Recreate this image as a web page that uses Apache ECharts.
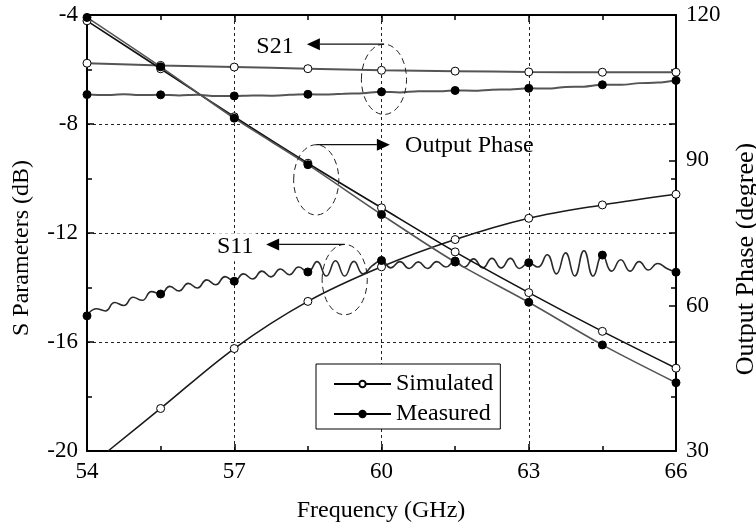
<!DOCTYPE html>
<html>
<head>
<meta charset="utf-8">
<script src="https://cdn.jsdelivr.net/npm/echarts@6/dist/echarts.min.js"></script>
<style>
  html, body { margin: 0; padding: 0; background: #fff; }
  #chart { width: 756px; height: 529px; }
</style>
</head>
<body>
<div id="chart"></div>
<script>
const FONT = "'Liberation Serif', 'Times New Roman', serif";

// Axis ranges
const freqRange = { min: 54, max: 66, step: 3 };
const dbRange = { min: -20, max: -4, step: 4 };
const phaseRange = { min: 30, max: 120, step: 30 };

// Marker frequencies (GHz)
const markFreq = [54, 55.5, 57, 58.5, 60, 61.5, 63, 64.5, 66];

// Marker values
const s21Sim    = [-5.77, -5.85, -5.91, -5.97, -6.03, -6.06, -6.09, -6.10, -6.10];
const s21Meas   = [-6.92, -6.93, -6.97, -6.91, -6.82, -6.77, -6.69, -6.56, -6.40];
const s11Sim    = [null, -18.44, -16.24, -14.51, -13.24, -12.24, -11.46, -10.97, -10.58];
const s11Meas   = [-15.04, -14.24, -13.77, -13.43, -13.01, -13.03, -13.09, -12.81, -13.44];
const phaseSim  = [118.8, 108.9, 99.0, 89.4, 80.2, 71.1, 62.7, 54.7, 47.1];
const phaseMeas = [119.5, 109.3, 98.7, 89.1, 78.8, 69.0, 60.7, 51.9, 44.1];

// Continuous traces
const s11SimTrace = [
  [54.43, -20.0], [55.5, -18.44], [57, -16.24], [58.5, -14.51], [60, -13.24],
  [61.5, -12.24], [63, -11.46], [64.5, -10.97], [66, -10.58]
];

const s21MeasTrace = [
  [54, -6.92], [54.375, -6.94], [54.75, -6.91], [55.125, -6.94], [55.5, -6.93],
  [55.875, -6.95], [56.25, -6.93], [56.625, -6.97], [57, -6.97], [57.375, -6.95],
  [57.75, -6.96], [58.125, -6.93], [58.5, -6.91], [58.875, -6.92], [59.25, -6.89],
  [59.625, -6.87], [60, -6.82], [60.375, -6.84], [60.75, -6.80], [61.125, -6.80],
  [61.5, -6.77], [61.875, -6.78], [62.25, -6.74], [62.625, -6.73], [63, -6.69],
  [63.375, -6.70], [63.75, -6.64], [64.125, -6.63], [64.5, -6.56], [64.875, -6.56],
  [65.25, -6.50], [65.625, -6.48], [66, -6.40]
];

const s11MeasTrace = [
  [54.0000, -15.04], [54.1875, -14.78], [54.3750, -14.86], [54.5625, -14.55],
  [54.7500, -14.66], [54.9375, -14.36], [55.1250, -14.47], [55.3125, -14.15],
  [55.5000, -14.24], [55.6875, -13.96], [55.8750, -14.13], [56.0625, -13.85],
  [56.2500, -14.02], [56.4375, -13.72], [56.6250, -13.90], [56.8125, -13.60],
  [57.0000, -13.77], [57.1875, -13.50], [57.3750, -13.69], [57.5625, -13.40],
  [57.7500, -13.61], [57.9375, -13.32], [58.1250, -13.53], [58.3125, -13.25],
  [58.5000, -13.43], [58.6875, -13.05], [58.8750, -13.58], [59.0625, -13.02],
  [59.2500, -13.58], [59.4375, -13.04], [59.6250, -13.50], [59.8125, -13.20],
  [60.0000, -13.01], [60.1875, -13.28], [60.3750, -13.05], [60.5625, -13.30],
  [60.7500, -13.06], [60.9375, -13.30], [61.1250, -13.05], [61.3125, -13.25],
  [61.5000, -13.03], [61.6875, -13.25], [61.8750, -12.95], [62.0625, -13.28],
  [62.2500, -12.93], [62.4375, -13.28], [62.6250, -12.93], [62.8125, -13.30],
  [63.0000, -13.09], [63.1875, -13.25], [63.3750, -12.80], [63.5625, -13.50],
  [63.7500, -12.73], [63.9375, -13.58], [64.1250, -12.65], [64.3125, -13.58],
  [64.5000, -12.81], [64.6875, -13.40], [64.8750, -12.98], [65.0625, -13.40],
  [65.2500, -13.05], [65.4375, -13.36], [65.6250, -13.12], [65.8125, -13.30],
  [66.0000, -13.44]
];

const pairs = (vals) => markFreq.map((f, i) => [f, vals[i]]).filter(p => p[1] !== null);

const chart = echarts.init(document.getElementById('chart'), null, { renderer: 'canvas' });

const black = '#000';
const tickStyle = { color: black, width: 1.5 };
const gridDash = { color: '#222', width: 1, type: [3, 3] };
const labelStyle = { color: black, fontFamily: FONT, fontSize: 23 };

function xAxisDef(pos, showLabel) {
  return {
    type: 'value', position: pos, min: freqRange.min, max: freqRange.max, interval: freqRange.step,
    axisLine: { show: true, onZero: false, lineStyle: { color: black, width: 2 } },
    axisTick: { show: true, inside: true, length: 7, lineStyle: tickStyle },
    minorTick: { show: true, splitNumber: 2, length: 5, lineStyle: tickStyle },
    axisLabel: Object.assign({ show: showLabel, margin: 9 }, labelStyle),
    splitLine: { show: showLabel, lineStyle: gridDash },
    minorSplitLine: { show: false }
  };
}

function lineSeries(name, data, yIdx, color, width, smooth) {
  return {
    type: 'line', name: name, data: data, xAxisIndex: 0, yAxisIndex: yIdx,
    symbol: 'none', smooth: smooth, lineStyle: { color: color, width: width },
    silent: true, z: 3, animation: false
  };
}

function markSeries(name, data, yIdx, filled) {
  return {
    type: 'scatter', name: name, data: data, xAxisIndex: 0, yAxisIndex: yIdx,
    symbol: 'circle', symbolSize: 8,
    itemStyle: filled ? { color: black, borderColor: black, borderWidth: 1, opacity: 1 }
                      : { color: '#fff', borderColor: black, borderWidth: 1, opacity: 1 },
    silent: true, z: 5, animation: false, clip: false
  };
}

const option = {
  animation: false,
  backgroundColor: '#fff',
  grid: { left: 87, top: 15, width: 589, height: 436, containLabel: false, outerBoundsMode: 'none' },
  xAxis: [xAxisDef('bottom', true), xAxisDef('top', false)],
  yAxis: [
    {
      type: 'value', position: 'left', min: dbRange.min, max: dbRange.max, interval: dbRange.step,
      axisLine: { show: true, onZero: false, lineStyle: { color: black, width: 2 } },
      axisTick: { show: true, inside: true, length: 7, lineStyle: tickStyle },
      minorTick: { show: true, splitNumber: 2, length: 5, lineStyle: tickStyle },
      axisLabel: Object.assign({ margin: 9 }, labelStyle),
      splitLine: { show: true, lineStyle: gridDash }
    },
    {
      type: 'value', position: 'right', min: phaseRange.min, max: phaseRange.max, interval: phaseRange.step,
      axisLine: { show: true, onZero: false, lineStyle: { color: black, width: 2 } },
      axisTick: { show: true, inside: true, length: 7, lineStyle: tickStyle },
      axisLabel: Object.assign({ margin: 10 }, labelStyle),
      splitLine: { show: false }
    },
    {
      type: 'value', position: 'right', min: dbRange.min, max: dbRange.max, interval: dbRange.step,
      axisLine: { show: false },
      axisTick: { show: true, inside: true, length: 7, lineStyle: tickStyle },
      minorTick: { show: true, splitNumber: 2, length: 5, lineStyle: tickStyle },
      axisLabel: { show: false },
      splitLine: { show: false }
    }
  ],
  legend: {
    show: true, orient: 'vertical', left: 316, top: 364,
    padding: [8, 7, 3, 17], itemGap: 6, itemWidth: 57, itemHeight: 8,
    borderColor: black, borderWidth: 1, backgroundColor: '#fff',
    selectedMode: false, data: ['Simulated', 'Measured'],
    textStyle: { fontFamily: FONT, fontSize: 24, color: black, lineHeight: 24 },
    z: 6
  },
  series: [
    lineSeries('S21 simulated', pairs(s21Sim), 0, '#555', 2, 0.3),
    lineSeries('S21 measured', s21MeasTrace, 0, '#555', 2, 0.3),
    lineSeries('S11 simulated', s11SimTrace, 0, '#1a1a1a', 1.6, 0.35),
    lineSeries('S11 measured', s11MeasTrace, 0, '#2a2a2a', 1.6, 0.5),
    lineSeries('Phase simulated', pairs(phaseSim), 1, '#111', 1.6, 0.3),
    lineSeries('Phase measured', pairs(phaseMeas), 1, '#555', 1.6, 0.3),
    markSeries('S21 simulated', pairs(s21Sim), 0, false),
    markSeries('S21 measured', pairs(s21Meas), 0, true),
    markSeries('S11 simulated', pairs(s11Sim), 0, false),
    markSeries('S11 measured', pairs(s11Meas), 0, true),
    markSeries('Phase simulated', pairs(phaseSim), 1, false),
    markSeries('Phase measured', pairs(phaseMeas), 1, true),
    {
      type: 'line', name: 'Simulated', data: [], symbol: 'circle', symbolSize: 8,
      itemStyle: { color: '#fff', borderColor: black, borderWidth: 1 },
      lineStyle: { color: black, width: 2 }
    },
    {
      type: 'line', name: 'Measured', data: [], symbol: 'circle', symbolSize: 8,
      itemStyle: { color: black, borderColor: black, borderWidth: 1 },
      lineStyle: { color: black, width: 2 }
    }
  ]
};

chart.setOption(option);

// Annotations: ellipse groups with arrows pointing to the relevant axis
const notes = [
  { label: 'S21', textAt: [57.83, -5.18], align: 'center', center: [60.05, -6.36], arrowTo: 58.48, bg: false },
  { label: 'Output Phase', textAt: [60.48, -8.78], align: 'left', center: [58.67, -10.05], arrowTo: 60.17, bg: false },
  { label: 'S11', textAt: [57.02, -12.52], align: 'center', center: [59.25, -13.71], arrowTo: 57.65, bg: true }
];
const ellipseHalf = { df: 0.46, ddb: 1.29 };

const toPx = (f, v) => chart.convertToPixel({ xAxisIndex: 0, yAxisIndex: 0 }, [f, v]);
const graphics = [];

notes.forEach(n => {
  const c = toPx(n.center[0], n.center[1]);
  const edge = toPx(n.center[0] + ellipseHalf.df, n.center[1] + ellipseHalf.ddb);
  const rx = Math.abs(edge[0] - c[0]);
  const ry = Math.abs(c[1] - edge[1]);
  graphics.push({
    type: 'ellipse', shape: { cx: c[0], cy: c[1], rx: rx, ry: ry },
    style: { fill: null, stroke: '#222', lineWidth: 1, lineDash: [6, 4] }, z: 10, silent: true
  });
  const start = [c[0], c[1] - ry];
  const tip = toPx(n.arrowTo, n.center[1] + ellipseHalf.ddb);
  const dir = Math.sign(tip[0] - start[0]);
  const headLen = 13, headHalf = 6;
  graphics.push({
    type: 'line', shape: { x1: start[0], y1: start[1], x2: tip[0] - dir * headLen, y2: start[1] },
    style: { stroke: '#111', lineWidth: 1.3 }, z: 10, silent: true
  });
  graphics.push({
    type: 'polygon',
    shape: { points: [[tip[0], start[1]], [tip[0] - dir * headLen, start[1] - headHalf], [tip[0] - dir * headLen, start[1] + headHalf]] },
    style: { fill: '#000' }, z: 10, silent: true
  });
  const t = toPx(n.textAt[0], n.textAt[1]);
  const textStyle = {
    text: n.label, x: 0, y: 0, align: n.align, verticalAlign: 'middle',
    font: '24px ' + FONT, fill: '#000'
  };
  if (n.bg) { textStyle.backgroundColor = '#fff'; textStyle.padding = [2, 3]; }
  graphics.push({ type: 'text', x: t[0], y: t[1], style: textStyle, z: 9, silent: true });
});

// Axis titles
graphics.push({
  type: 'text', x: 22, y: 248, rotation: Math.PI / 2,
  style: { text: 'S Parameters (dB)', align: 'center', verticalAlign: 'middle', font: '24px ' + FONT, fill: '#000' },
  silent: true
});
graphics.push({
  type: 'text', x: 746, y: 259, rotation: Math.PI / 2,
  style: { text: 'Output Phase (degree)', align: 'center', verticalAlign: 'middle', font: '26px ' + FONT, fill: '#000' },
  silent: true
});
graphics.push({
  type: 'text', x: 381, y: 511,
  style: { text: 'Frequency (GHz)', align: 'center', verticalAlign: 'middle', font: '24px ' + FONT, fill: '#000' },
  silent: true
});

chart.setOption({ graphic: { elements: graphics } });
</script>
</body>
</html>
